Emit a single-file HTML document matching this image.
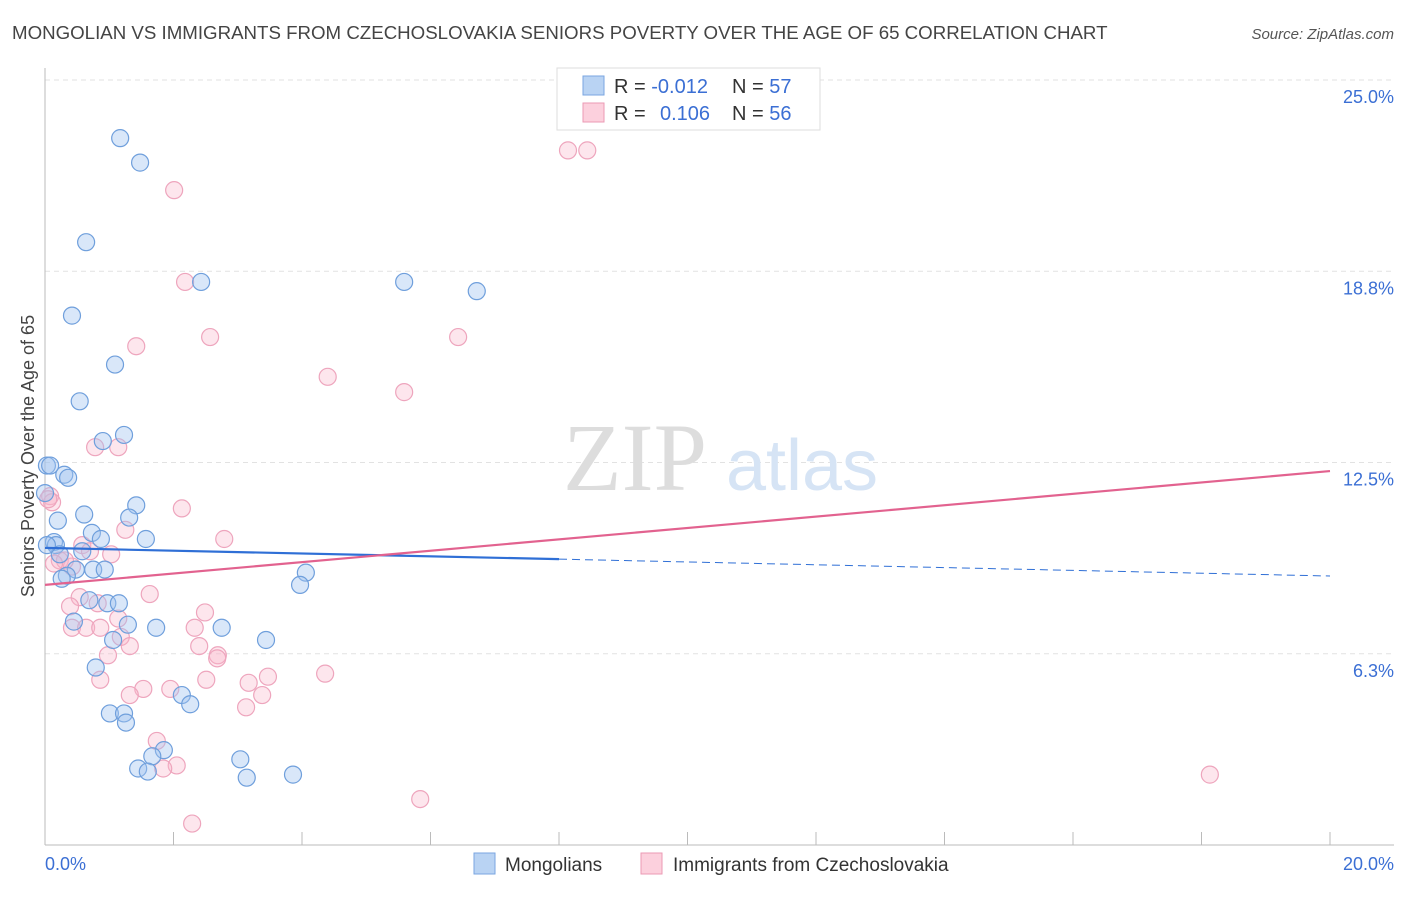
<!DOCTYPE html>
<html><head><meta charset="utf-8"><style>
body{margin:0;background:#fff;font-family:"Liberation Sans",sans-serif;}
svg text{font-family:"Liberation Sans",sans-serif;}
</style></head><body>
<svg id="chart" width="1406" height="892" viewBox="0 0 1406 892">
<text x="12" y="39" font-size="18.7" fill="#444">MONGOLIAN VS IMMIGRANTS FROM CZECHOSLOVAKIA SENIORS POVERTY OVER THE AGE OF 65 CORRELATION CHART</text>
<text x="1394" y="39" font-size="15" fill="#555" font-style="italic" text-anchor="end">Source: ZipAtlas.com</text>
<g id="grid"></g>
<g><text x="635" y="490" font-size="96" fill="#ddd" text-anchor="middle" style="font-family:'Liberation Serif',serif">ZIP</text><text x="802" y="490" font-size="72" fill="#d6e4f5" text-anchor="middle">atlas</text></g>
<text transform="translate(34,456) rotate(-90)" font-size="18" fill="#444" text-anchor="middle">Seniors Poverty Over the Age of 65</text>
<g id="pts"></g>
<g id="lines"></g>
<g>
<rect x="557" y="68" width="263" height="62" fill="#fff" stroke="#ddd"/>
<rect x="583" y="76" width="21" height="19" fill="#b9d3f3" stroke="#7aa6e0"/>
<rect x="583" y="103" width="21" height="19" fill="#fcd0dd" stroke="#eb9ab4"/>
<text x="614" y="93" font-size="20" fill="#333">R = <tspan fill="#3b6fd4">-0.012</tspan><tspan x="732">N = </tspan><tspan fill="#3b6fd4">57</tspan></text>
<text x="614" y="120" font-size="20" fill="#333">R = <tspan x="660" fill="#3b6fd4">0.106</tspan><tspan x="732">N = </tspan><tspan fill="#3b6fd4">56</tspan></text>
</g>
<g>
<rect x="474" y="853" width="21" height="21" fill="#b9d3f3" stroke="#7aa6e0"/>
<text x="505" y="871" font-size="19" fill="#333">Mongolians</text>
<rect x="641" y="853" width="21" height="21" fill="#fcd0dd" stroke="#eb9ab4"/>
<text x="673" y="871" font-size="19" fill="#333">Immigrants from Czechoslovakia</text>
</g>
<text x="45" y="870" font-size="18" fill="#3b6fd4">0.0%</text>
<text x="1394" y="870" font-size="18" fill="#3b6fd4" text-anchor="end">20.0%</text>
</svg>
<script>
const yTicks=[25,18.75,12.5,6.25];
const yTickLabels=["25.0%","18.8%","12.5%","6.3%"];
const blueX=[1.17,1.48,0.64,2.43,5.59,6.72,0.42,1.09,0.54,1.23,0.90,0.03,0.30,0.36,1.42,0.61,1.31,0.20,0.73,0.87,1.57,0.14,0.17,0.58,0.23,0.48,0.75,0.93,4.06,0.34,0.26,3.97,0.69,0.97,1.15,0.45,1.29,1.73,2.75,1.06,3.44,0.79,2.13,2.26,1.01,1.23,1.26,1.85,1.67,3.04,1.45,1.60,3.14,3.86,0.03,0.08,0.0];
const blueY=[23.1,22.3,19.7,18.4,18.4,18.1,17.3,15.7,14.5,13.4,13.2,12.4,12.1,12.0,11.1,10.8,10.7,10.6,10.2,10.0,10.0,9.9,9.8,9.6,9.5,9.0,9.0,9.0,8.9,8.8,8.7,8.5,8.0,7.9,7.9,7.3,7.2,7.1,7.1,6.7,6.7,5.8,4.9,4.6,4.3,4.3,4.0,3.1,2.9,2.8,2.5,2.4,2.2,2.3,9.8,12.4,11.5];
const pinkX=[8.14,8.44,2.01,2.18,2.57,1.42,6.43,4.40,5.59,0.78,1.14,0.08,0.11,2.13,1.25,2.79,0.58,1.03,0.70,0.23,0.42,1.63,0.54,0.39,0.82,2.49,1.14,2.33,0.42,0.64,0.86,1.18,1.32,2.40,0.98,2.69,2.68,0.86,3.47,4.36,2.51,3.17,1.53,1.95,1.32,3.38,3.13,1.74,2.05,1.84,5.84,2.29,18.13,0.05,0.31,0.14];
const pinkY=[22.7,22.7,21.4,18.4,16.6,16.3,16.6,15.3,14.8,13.0,13.0,11.4,11.2,11.0,10.3,10.0,9.8,9.5,9.6,9.3,9.1,8.2,8.1,7.8,7.9,7.6,7.4,7.1,7.1,7.1,7.1,6.8,6.5,6.5,6.2,6.2,6.1,5.4,5.5,5.6,5.4,5.3,5.1,5.1,4.9,4.9,4.5,3.4,2.6,2.5,1.5,0.7,2.3,11.3,9.3,9.2];
const blueTrend=[9.71,-0.046];
const pinkTrend=[8.50,0.186];
const xs=v=>45+v*64.25, ys=v=>845-v*30.6;
const NS="http://www.w3.org/2000/svg";
function mk(t,a,p){const e=document.createElementNS(NS,t);for(const k in a)e.setAttribute(k,a[k]);p.appendChild(e);return e;}
const grid=document.getElementById('grid');
yTicks.forEach((t,i)=>{
 const l=mk('line',{x1:45,x2:1394,y1:ys(t),y2:ys(t),stroke:'#e2e2e2','stroke-dasharray':'5,4'},grid);
 
 
 const tx=mk('text',{x:1394,y:ys(t)+23,'font-size':18,fill:'#3b6fd4','text-anchor':'end'},grid);
 tx.textContent=yTickLabels[i];
 
 
});
const ax=mk('line',{x1:45,x2:45,y1:68,y2:845,stroke:'#bbb'},grid);


const bx=mk('line',{x1:45,x2:1394,y1:845,y2:845,stroke:'#bbb'},grid);


for(let i=0;i<=10;i++){const t=mk('line',{x1:xs(i*2),x2:xs(i*2),y1:832,y2:845,stroke:'#bbb'},grid);
 
 }
const pts=document.getElementById('pts');
pinkX.forEach((x,i)=>{const c=mk('circle',{cx:xs(x),cy:ys(pinkY[i]),r:8.5,fill:'rgba(248,184,204,0.35)',stroke:'#eea5bd','stroke-width':1.2},pts);
 
 });
blueX.forEach((x,i)=>{const c=mk('circle',{cx:xs(x),cy:ys(blueY[i]),r:8.5,fill:'rgba(160,196,240,0.4)',stroke:'#6f9fdc','stroke-width':1.2},pts);
 
 });
const lines=document.getElementById('lines');
const [ba,bb]=blueTrend;
let l1=mk('line',{x1:xs(0),y1:ys(ba),x2:xs(8),y2:ys(ba+bb*8),stroke:'#2f6fd6','stroke-width':2.2},lines);


let l2=mk('line',{x1:xs(8),y1:ys(ba+bb*8),x2:xs(20),y2:ys(ba+bb*20),stroke:'#2f6fd6','stroke-width':1,'stroke-dasharray':'8,5'},lines);


const [pa,pb]=pinkTrend;
let l3=mk('line',{x1:xs(0),y1:ys(pa),x2:xs(20),y2:ys(pa+pb*20),stroke:'#e2628f','stroke-width':2.2},lines);


</script>
</body></html>
